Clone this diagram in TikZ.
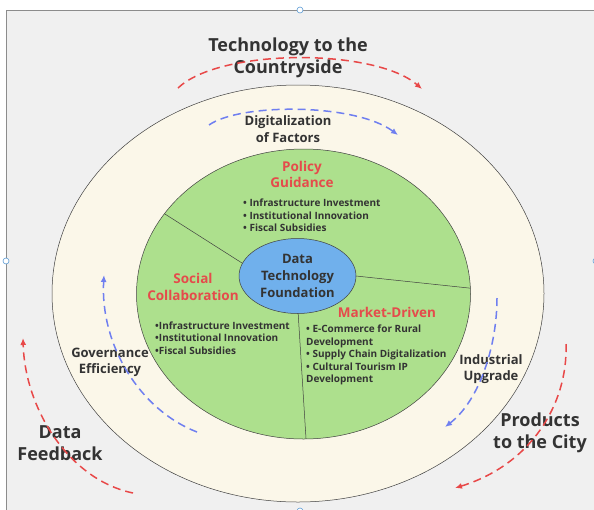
\documentclass[tikz,border=0pt]{standalone}
\usepackage{fontspec}
\setmainfont{Open Sans}
\usepackage{xcolor}
\usetikzlibrary{arrows.meta,shapes.geometric,positioning}

\definecolor{panel}{HTML}{F0F0F0}
\definecolor{cream}{HTML}{FBF7E9}
\definecolor{leaf}{HTML}{ADE08D}
\definecolor{sky}{HTML}{70B0EC}
\definecolor{ink}{HTML}{333333}
\definecolor{hot}{HTML}{E54B4B}
\definecolor{arcred}{HTML}{E84848}
\definecolor{arcblue}{HTML}{6F7FF0}
\definecolor{handle}{HTML}{5B9BD5}

\begin{document}
\begin{tikzpicture}[x=1pt,y=-1pt,>={Latex[length=7pt,width=6pt]},
    ring/.style={draw=black!75, ellipse, inner sep=0pt, outer sep=0pt, line width=0.5pt},
    redflow/.style={->, draw=arcred, line width=1.5pt, dash pattern=on 8pt off 5pt},
    blueflow/.style={->, draw=arcblue, line width=1.5pt, dash pattern=on 8pt off 5pt}]
        \tikzstyle{big} = [text=ink, align=center, inner sep=0pt, font=\fontsize{18}{22}\selectfont\bfseries]
        \tikzstyle{mid} = [text=ink, align=center, inner sep=0pt, font=\fontsize{13}{16.5}\selectfont\bfseries]
        \tikzstyle{heading} = [text=hot, align=center, inner sep=0pt, font=\fontsize{13.5}{16.5}\selectfont\bfseries]
        \tikzstyle{items} = [text=ink, align=left, anchor=west, inner sep=0pt, font=\fontsize{10}{12.5}\selectfont\bfseries]
        \tikzstyle{dot} = [circle, draw=handle, fill=white, inner sep=0pt, minimum size=6pt, line width=0.6pt]
        \useasboundingbox (0,0) rectangle (594,509);

        % canvas
        \draw[draw=black!45, fill=panel, line width=1pt] (6,10) rectangle (604,519);
        \node[dot] (htop) at (300,10) {};
        \node[dot] (hleft) at (6,261) {};
        \node[dot] (hright) at (596,261) {};
        \node[dot] (hbottom) at (300,511) {};

        % rings
        \node[ring, fill=cream, minimum width=492pt, minimum height=417pt] (outer) at (298,293.5) {};
        \node[ring, fill=leaf, minimum width=334pt, minimum height=290pt] (green) at (303.5,294) {};
        \node[ring, fill=sky, minimum width=117pt, minimum height=75pt, text=ink, align=center,
              font=\fontsize{13}{17}\selectfont\bfseries] (core) at (297.5,276) {Data\\Technology\\Foundation};

        \draw[black!75, line width=0.5pt] (core.167) -- (green.150);
        \draw[black!75, line width=0.5pt] (core.0) -- (green.2);
        \draw[black!75, line width=0.5pt] (core.-89) -- (green.-89);

        % sector texts
        \node[heading] (policy) at (302,174.5) {Policy\\Guidance};
        \node[items] (policylist) at (243,215.5) {• Infrastructure Investment\\• Institutional Innovation\\• Fiscal Subsidies};
        \node[heading] (social) at (193,287) {Social\\Collaboration};
        \node[items] (sociallist) at (155,338) {•Infrastructure Investment\\•Institutional Innovation\\•Fiscal Subsidies};
        \node[heading] (market) at (387,312) {Market-Driven};
        \node[items] (marketlist) at (306,355) {• E-Commerce for Rural\\Development\\• Supply Chain Digitalization\\• Cultural Tourism IP\\Development};

        % ring texts
        \node[big] (tech) at (288,58) {Technology to the\\Countryside};
        \node[mid] (digital) at (288,129) {Digitalization\\of Factors};
        \node[mid] (gov) at (110,362.5) {Governance\\Efficiency};
        \node[mid] (industry) at (491,369) {Industrial\\Upgrade};
        \node[big] (feedback) at (60,443.5) {Data\\Feedback};
        \node[big] (products) at (540,433) {Products\\to the City};

        % flows
        \coordinate (ta) at (178,88);
        \coordinate (tb) at (422,89);
        \coordinate (da) at (209,125);
        \coordinate (db) at (398,135);
        \coordinate (ga) at (197,432);
        \coordinate (gb) at (104,275);
        \coordinate (ua) at (497,298);
        \coordinate (ub) at (445,427);
        \coordinate (fa) at (133,493);
        \coordinate (fb) at (23,338);
        \coordinate (pa) at (566,344);
        \coordinate (pb) at (455,488);

        \draw[redflow] (ta) .. controls (220,48) and (375,48) .. (tb);
        \draw[blueflow] (da) .. controls (240,103) and (355,103) .. (db);
        \draw[blueflow] (ga) .. controls (140,410) and (100,345) .. (gb);
        \draw[blueflow] (ua) .. controls (497,345) and (480,400) .. (ub);
        \draw[redflow] (fa) .. controls (70,480) and (25,410) .. (fb);
        \draw[redflow] (pa) .. controls (568,405) and (530,465) .. (pb);
\end{tikzpicture}
\end{document}
